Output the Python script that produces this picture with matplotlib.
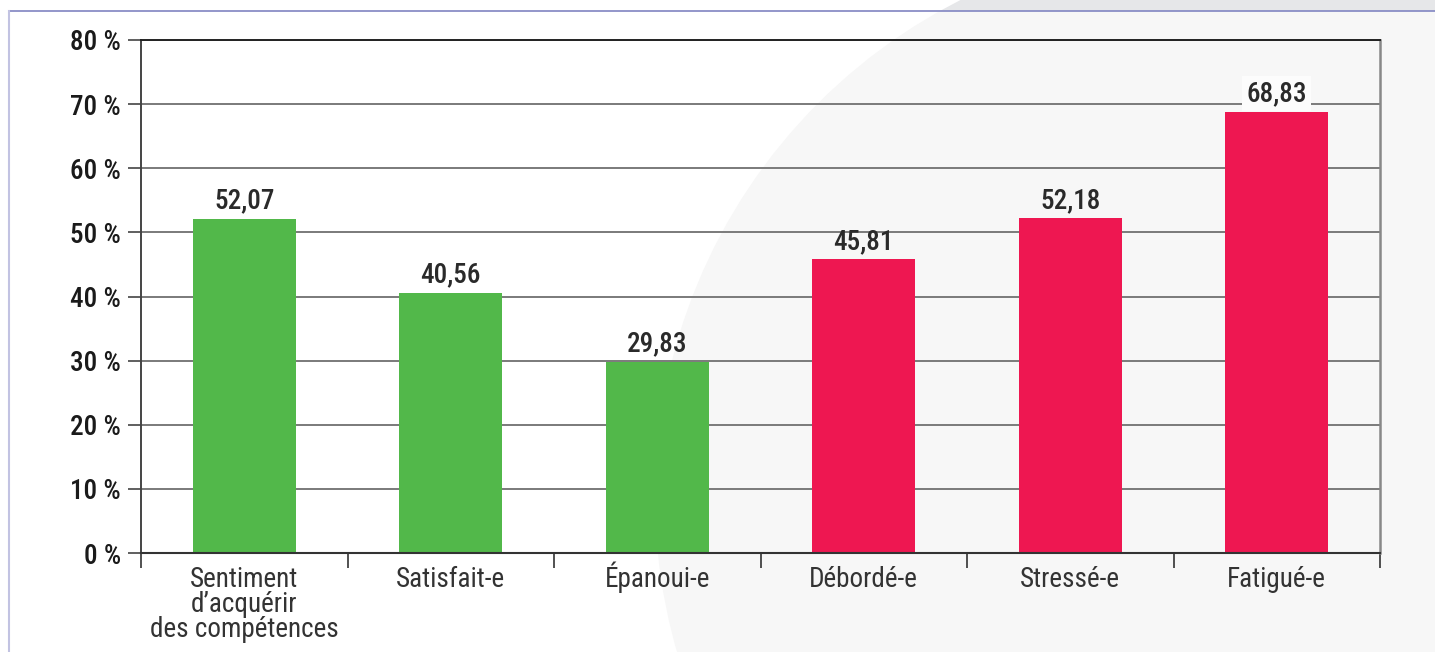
import matplotlib
matplotlib.use('Agg')
import matplotlib.pyplot as plt
from matplotlib import font_manager
from matplotlib.patches import Circle, Rectangle

categories = ["Sentiment\nd\u2019acqu\u00e9rir\ndes comp\u00e9tences", "Satisfait-e", "\u00c9panoui-e",
              "D\u00e9bord\u00e9-e", "Stress\u00e9-e", "Fatigu\u00e9-e"]
values = [52.07, 40.56, 29.83, 45.81, 52.18, 68.83]
bar_colors = ["#52b84a", "#52b84a", "#52b84a", "#ee1751", "#ee1751", "#ee1751"]
yticks = [0, 10, 20, 30, 40, 50, 60, 70, 80]

# the original uses a narrow DIN-like face; take the narrowest installed one
fonts = font_manager.fontManager.ttflist
names = {f.name for f in fonts}
font_kw = {}
for cand in ['Liberation Sans Narrow', 'Roboto Condensed', 'Open Sans Condensed', 'DejaVu Sans Condensed']:
    if cand in names:
        font_kw = {'family': cand}
        break
else:
    if any(f.name == 'DejaVu Sans' and f.stretch == 'condensed' for f in fonts):
        font_kw = {'family': 'DejaVu Sans', 'stretch': 'condensed'}
    elif any(f.name == 'Roboto' and f.stretch == 'condensed' for f in fonts):
        font_kw = {'family': 'Roboto', 'stretch': 'condensed'}
    else:
        font_kw = {'family': 'Roboto'}

plt.rcParams['font.family'] = [font_kw['family'], 'DejaVu Sans']
if 'stretch' in font_kw:
    plt.rcParams['font.stretch'] = font_kw['stretch']

W, H = 1435, 652
fig = plt.figure(figsize=(W / 100, H / 100), dpi=100, facecolor='white')

# background: page frame + big grey circle
bg = fig.add_axes([0, 0, 1, 1])
bg.set_xlim(0, W)
bg.set_ylim(H, 0)
bg.axis('off')
outer = Circle((1212, 497), 557, color='#e6e7e9', lw=0)
bg.add_patch(outer)
outer.set_clip_path(Rectangle((0, 0), W, 11, transform=bg.transData))
inner = Circle((1212, 497), 557, color='#f7f7f7', lw=0)
bg.add_patch(inner)
inner.set_clip_path(Rectangle((9, 11), W, H, transform=bg.transData))
bg.plot([9, W], [11, 11], color='#8a8ec6', lw=1.3)
bg.plot([9, 9], [11, H], color='#c2c3e2', lw=1.5)

ax = fig.add_axes([141 / W, 99 / H, 1239 / W, 513 / H])
ax.patch.set_alpha(0)
x = list(range(len(categories)))
ax.bar(x, values, width=0.5, color=bar_colors, zorder=2)

for i, v in enumerate(values):
    t = ax.annotate(f"{v:.2f}".replace('.', ','), (i, v), xytext=(0, 7.5),
                    textcoords='offset points', ha='center', va='baseline',
                    fontsize=19.5, fontweight='medium', color='#2a2a2a', zorder=3)
    if i == len(values) - 1:
        t.set_bbox(dict(facecolor='#fcfcfc', edgecolor='none', pad=3))

# category names: one text per line, all on a shared baseline
for i, cat in enumerate(categories):
    for k, line in enumerate(cat.split('\n')):
        ax.annotate(line, (i, 0), xycoords=ax.get_xaxis_transform(),
                    xytext=(0, -24.5 - 18 * k), textcoords='offset points',
                    ha='center', va='baseline', fontsize=19.5, color='#333333')

ax.set_xlim(-0.5, len(categories) - 0.5)
ax.set_ylim(0, 80)
ax.set_yticks(yticks)
ax.set_yticklabels([f"{t} %" for t in yticks], fontsize=19.5, fontweight='medium', color='#1a1a1a')
ax.set_xticks(x, labels=[''] * len(x))
ax.set_xticks([i - 0.5 for i in range(len(categories) + 1)], minor=True)
ax.tick_params(axis='x', which='major', length=0)
ax.tick_params(axis='x', which='minor', length=11, width=1.2, color='#333333')
ax.tick_params(axis='y', length=9.5, width=1.2, color='#444444', pad=5)

ax.yaxis.grid(True, color='#707070', lw=1.3, zorder=0)
ax.set_axisbelow(True)
ax.spines['left'].set_color('#444444')
ax.spines['left'].set_linewidth(1.4)
ax.spines['bottom'].set_color('#333333')
ax.spines['bottom'].set_linewidth(1.5)
ax.spines['top'].set_color('#222222')
ax.spines['top'].set_linewidth(1.4)
ax.spines['right'].set_color('#888888')
ax.spines['right'].set_linewidth(1.8)

fig.savefig('out.png', dpi=100, facecolor='white')
